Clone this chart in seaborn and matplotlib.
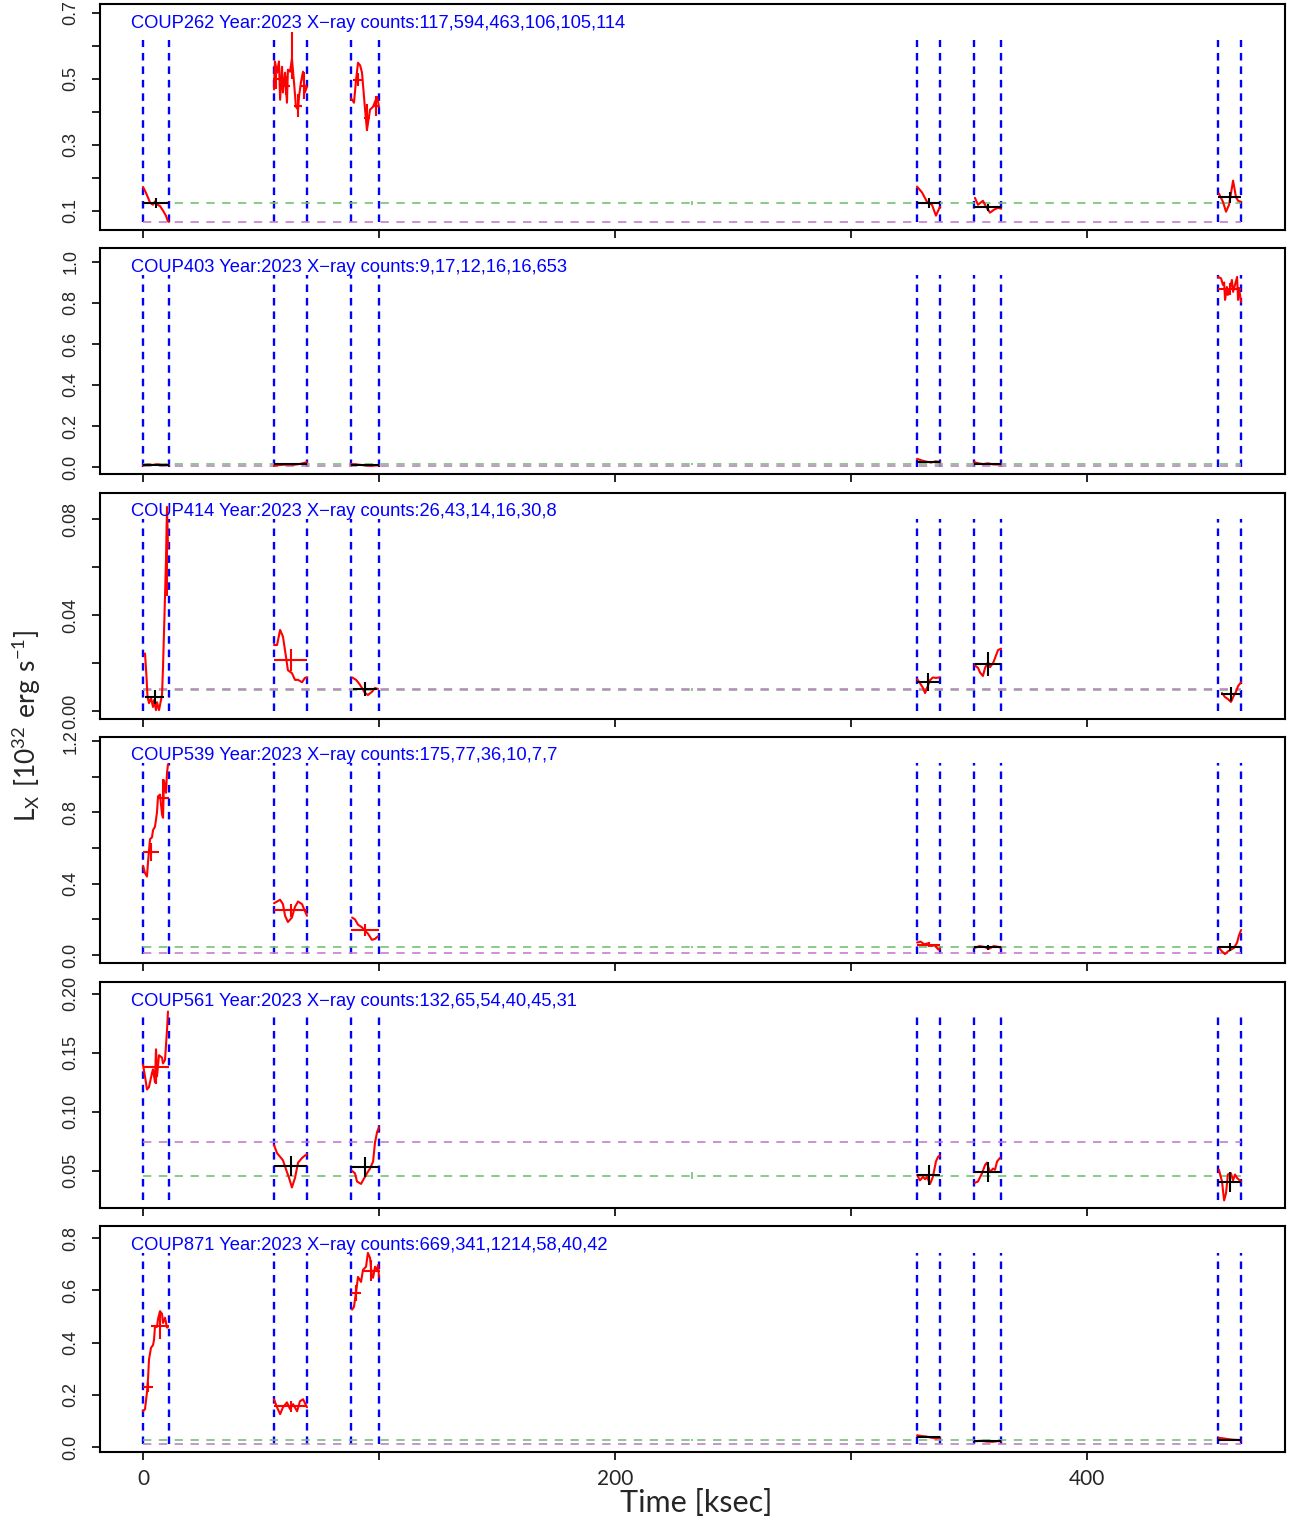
import matplotlib
matplotlib.use('Agg')
import matplotlib.pyplot as plt
import seaborn as sns
import pandas as pd

sns.set_style('ticks')
plt.rcParams['font.family'] = ['Liberation Sans', 'DejaVu Sans']

W, H = 1292, 1523

# ---- data ----
stars = ['COUP262', 'COUP403', 'COUP414', 'COUP539', 'COUP561', 'COUP871']
counts = ['117,594,463,106,105,114', '9,17,12,16,16,653', '26,43,14,16,30,8',
          '175,77,36,10,7,7', '132,65,54,40,45,31', '669,341,1214,58,40,42']
year = 2023

seg_edges = [0, 11, 55.5, 69.5, 88.1, 100, 328, 337.7, 352.1, 363.6, 455.5, 465.3]
t_start, t_stop = 0, 465.3
green_lvl = [0.124, 0.016, 0.0089, 0.045, 0.0458, 0.027]
green_err = [0.006, 0.004, 0.0006, 0.006, 0.003, 0.004]
purple_lvl = [0.067, 0.005, 0.0093, 0.011, 0.0746, 0.011]
blue_lo = [0.067, 0.0, 0.0, 0.005, 0.0254, 0.011]
blue_hi = [0.618, 0.937, 0.080, 1.078, 0.18, 0.743]

# light curves: one list per observing segment
t262 = [[0, 1.0, 2.1, 3.0, 4.2, 5.1, 5.9, 7.2, 8.5, 9.7, 10.6, 11.0],
        [55.5, 55.9, 56.8, 57.6, 58.1, 58.9, 59.3, 60.2, 61.0, 61.4, 62.3, 63.1, 64.0, 64.8, 65.7, 66.1, 66.9, 67.8, 68.6, 69.5],
        [88.1, 88.6, 89.4, 90.3, 91.1, 92.0, 92.8, 94.1, 94.9, 96.2, 97.5, 98.3, 99.2, 100.0],
        [328.0, 330.1, 332.2, 334.3, 336.0, 337.7],
        [352.5, 353.8, 355.9, 357.2, 358.9, 360.6, 362.3, 363.6],
        [455.9, 457.6, 458.9, 460.2, 461.9, 463.1, 464.0, 465.3]]
f262 = [[0.172, 0.158, 0.140, 0.124, 0.118, 0.128, 0.119, 0.114, 0.100, 0.085, 0.068, 0.066],
        [0.467, 0.552, 0.518, 0.552, 0.436, 0.536, 0.458, 0.518, 0.427, 0.527, 0.521, 0.56, 0.488, 0.415, 0.406, 0.445, 0.488, 0.521, 0.458, 0.476],
        [0.44, 0.436, 0.427, 0.497, 0.548, 0.54, 0.518, 0.406, 0.345, 0.406, 0.415, 0.43, 0.445, 0.415],
        [0.173, 0.155, 0.127, 0.118, 0.085, 0.112],
        [0.139, 0.118, 0.13, 0.112, 0.094, 0.103, 0.109, 0.106],
        [0.152, 0.127, 0.097, 0.118, 0.191, 0.142, 0.13, 0.127]]

t403 = [[0, 2, 4, 6, 8, 11],
        [55.5, 58, 61, 64, 67, 69.5],
        [88.1, 91, 94, 97, 100],
        [328, 330, 332, 334, 336, 337.7],
        [352.1, 354, 356, 358, 360, 362, 363.6],
        [455.5, 456.8, 457.6, 458.1, 458.5, 459.3, 459.7, 460.6, 461.4, 461.9, 462.7, 463.6, 464.0, 464.4, 465.3]]
f403 = [[0.008, 0.012, 0.010, 0.014, 0.009, 0.011],
        [0.006, 0.010, 0.012, 0.011, 0.016, 0.024],
        [0.014, 0.012, 0.008, 0.006, 0.009],
        [0.040, 0.032, 0.026, 0.022, 0.028, 0.024],
        [0.024, 0.018, 0.014, 0.018, 0.013, 0.012, 0.016],
        [0.927, 0.92, 0.888, 0.90, 0.815, 0.878, 0.839, 0.873, 0.912, 0.854, 0.888, 0.927, 0.815, 0.873, 0.805]]

t414 = [[0.85, 1.5, 1.9, 2.54, 3.39, 4.24, 4.66, 5.51, 5.93, 6.78, 8.05, 8.47, 9.32, 9.75, 10.17, 10.59],
        [55.5, 56.8, 58.1, 59.3, 60.6, 61.4, 63.1, 64.4, 65.7, 67.4, 68.6, 69.5],
        [88.6, 90.3, 91.9, 94.1, 95.3, 97.0, 98.3, 99.6],
        [328.0, 329.2, 330.5, 331.4, 332.2, 333.5, 334.7, 336.0, 337.3],
        [352.5, 353.8, 354.7, 355.9, 356.8, 358.1, 358.9, 360.2, 361.0, 362.3, 363.6],
        [457.2, 458.5, 459.7, 461.0, 461.9, 463.1, 464.0, 465.3]]
f414 = [[0.024, 0.014, 0.006, 0.0033, 0.0054, 0.0017, 0.0046, 0.0004, 0.0037, 0.0004, 0.0067, 0.018, 0.0475, 0.063, 0.085, 0.068],
        [0.0275, 0.0275, 0.0338, 0.031, 0.0225, 0.017, 0.0158, 0.013, 0.013, 0.012, 0.0138, 0.014],
        [0.014, 0.013, 0.011, 0.0075, 0.0067, 0.008, 0.0096, 0.0092],
        [0.0133, 0.0117, 0.0096, 0.0075, 0.0096, 0.0129, 0.014, 0.0138, 0.014],
        [0.019, 0.018, 0.016, 0.0146, 0.018, 0.0204, 0.0183, 0.02, 0.022, 0.0254, 0.026],
        [0.0075, 0.0058, 0.005, 0.0038, 0.0058, 0.008, 0.0104, 0.012]]

t539 = [[0.0, 0.85, 1.69, 2.12, 2.97, 3.81, 4.24, 5.08, 5.93, 6.36, 7.20, 8.05, 8.47, 8.90, 9.75, 10.17, 10.59],
        [55.5, 56.8, 58.1, 59.3, 60.2, 61.4, 63.1, 64.4, 65.7, 67.4, 68.6, 69.5],
        [88.6, 89.8, 91.1, 92.8, 94.1, 95.3, 97.0, 98.3, 99.6],
        [328, 329.5, 331, 332.5, 334, 335.5, 337, 337.7],
        [352.5, 354.5, 356.5, 358.5, 360.5, 362.5, 363.6],
        [455.9, 457.2, 458.5, 459.7, 461.0, 462.3, 463.6, 464.4, 465.3]]
f539 = [[0.50, 0.46, 0.44, 0.52, 0.65, 0.66, 0.70, 0.72, 0.80, 0.89, 0.90, 0.79, 0.77, 0.98, 0.91, 1.02, 1.07],
        [0.29, 0.30, 0.31, 0.285, 0.22, 0.185, 0.21, 0.27, 0.30, 0.285, 0.246, 0.22],
        [0.21, 0.20, 0.17, 0.155, 0.135, 0.12, 0.085, 0.09, 0.105],
        [0.07, 0.075, 0.06, 0.065, 0.05, 0.055, 0.03, 0.035],
        [0.04, 0.05, 0.045, 0.035, 0.05, 0.045, 0.04],
        [0.04, 0.02, 0.005, 0.02, 0.03, 0.04, 0.07, 0.11, 0.14]]

t561 = [[0.0, 0.85, 1.69, 2.54, 3.81, 4.24, 5.08, 5.51, 5.93, 6.78, 8.05, 8.47, 9.32, 10.17, 10.59],
        [55.5, 56.8, 58.1, 59.3, 61.0, 61.9, 63.1, 64.4, 65.7, 67.4, 68.6, 69.5],
        [88.6, 89.8, 90.7, 92.4, 93.2, 94.9, 96.2, 97.5, 98.3, 99.2, 100.0],
        [328.0, 329.2, 330.5, 331.4, 332.2, 333.5, 334.7, 336.0, 336.9, 337.7],
        [352.5, 353.8, 355.5, 356.8, 357.6, 358.9, 360.2, 361.0, 361.9, 363.1],
        [455.9, 457.2, 458.1, 458.9, 459.7, 461.0, 461.9, 462.7, 463.6, 465.3]]
f561 = [[0.14, 0.13, 0.119, 0.121, 0.133, 0.136, 0.125, 0.153, 0.13, 0.148, 0.146, 0.141, 0.144, 0.169, 0.185],
        [0.072, 0.065, 0.062, 0.059, 0.049, 0.044, 0.036, 0.044, 0.057, 0.061, 0.063, 0.064],
        [0.05, 0.048, 0.041, 0.039, 0.042, 0.048, 0.052, 0.058, 0.074, 0.083, 0.087],
        [0.0466, 0.042, 0.045, 0.043, 0.045, 0.039, 0.045, 0.058, 0.062, 0.063],
        [0.04, 0.041, 0.048, 0.055, 0.057, 0.049, 0.052, 0.051, 0.058, 0.061],
        [0.051, 0.041, 0.025, 0.031, 0.047, 0.048, 0.042, 0.047, 0.044, 0.041]]

t871 = [[0.0, 0.85, 1.69, 2.12, 2.54, 3.39, 4.24, 4.66, 5.08, 5.93, 6.36, 7.20, 8.05, 8.47, 9.32, 10.17, 10.59],
        [55.5, 56.8, 58.1, 59.3, 61.0, 62.3, 63.6, 65.3, 66.5, 67.8, 69.5],
        [88.6, 89.4, 90.3, 91.1, 92.4, 93.2, 94.5, 95.3, 96.2, 97.0, 97.5, 98.3, 99.2, 99.6, 100.0],
        [328, 330, 332, 334, 336, 337.7],
        [352.5, 355, 357.5, 360, 362.5, 363.6],
        [455.9, 458, 460, 462, 464, 465.3]]
f871 = [[0.137, 0.145, 0.21, 0.26, 0.335, 0.38, 0.39, 0.41, 0.46, 0.46, 0.49, 0.52, 0.51, 0.475, 0.495, 0.457, 0.46],
        [0.183, 0.152, 0.126, 0.152, 0.171, 0.145, 0.164, 0.137, 0.175, 0.183, 0.152],
        [0.526, 0.537, 0.594, 0.651, 0.632, 0.678, 0.69, 0.743, 0.724, 0.651, 0.648, 0.69, 0.678, 0.697, 0.651],
        [0.045, 0.042, 0.040, 0.036, 0.033, 0.035],
        [0.022, 0.024, 0.021, 0.020, 0.023, 0.022],
        [0.035, 0.033, 0.030, 0.028, 0.027, 0.026]]

# block means (t, flux, half-width, error): black = consistent with baseline, red = elevated
black262 = [(5.5, 0.124, 5.5, 0.015), (332.9, 0.123, 4.8, 0.015), (357.9, 0.110, 5.7, 0.011), (460.4, 0.140, 4.9, 0.017)]
red262 = [(56.4, 0.50, 1.5, 0.03), (60.6, 0.479, 1.7, 0.03), (63.1, 0.57, 0.6, 0.07), (65.7, 0.418, 1.7, 0.035),
          (68.2, 0.479, 1.5, 0.04), (91.1, 0.497, 2.3, 0.02), (94.9, 0.382, 1.3, 0.04), (98.7, 0.418, 1.2, 0.03)]
black403 = [(5.5, 0.010, 5.5, 0.004), (62.5, 0.013, 7.0, 0.004), (94.1, 0.010, 5.9, 0.004),
            (332.9, 0.025, 4.8, 0.006), (357.9, 0.015, 5.7, 0.005)]
red403 = [(460.4, 0.868, 4.9, 0.03)]
black414 = [(4.9, 0.0058, 4.0, 0.003), (94.1, 0.0092, 5.1, 0.003), (332.6, 0.012, 4.7, 0.0037),
            (358.1, 0.0196, 5.5, 0.0048), (461.0, 0.0071, 4.2, 0.003)]
red414 = [(62.5, 0.0213, 7.0, 0.0045), (10.2, 0.063, 0.4, 0.015)]
black539 = [(357.9, 0.042, 5.7, 0.015), (460.4, 0.045, 4.9, 0.02)]
red539 = [(3.4, 0.58, 3.2, 0.05), (8.5, 0.88, 2.5, 0.11), (62.5, 0.25, 7.0, 0.035), (94.1, 0.14, 5.9, 0.035),
          (332.9, 0.058, 4.8, 0.015)]
black561 = [(62.5, 0.054, 7.0, 0.0085), (94.1, 0.053, 5.9, 0.0085), (332.9, 0.0466, 4.8, 0.0085),
            (357.9, 0.049, 5.7, 0.0085), (460.4, 0.041, 4.9, 0.0085)]
red561 = [(5.5, 0.138, 5.5, 0.014)]
black871 = [(332.9, 0.038, 4.8, 0.005), (357.9, 0.023, 5.7, 0.005), (460.4, 0.027, 4.9, 0.005)]
red871 = [(2.1, 0.229, 2.1, 0.02), (7.2, 0.465, 3.8, 0.05), (62.5, 0.156, 7.0, 0.02),
          (90.3, 0.59, 2.0, 0.03), (96.6, 0.674, 3.8, 0.04)]

curve_t = [t262, t403, t414, t539, t561, t871]
curve_f = [f262, f403, f414, f539, f561, f871]
black_blocks = [black262, black403, black414, black539, black561, black871]
red_blocks = [red262, red403, red414, red539, red561, red871]

ylims = [(0.0415, 0.726), (-0.034, 1.068), (-0.0033, 0.0908), (-0.045, 1.223), (0.0186, 0.210), (-0.019, 0.846)]
yticks = [[0.1, 0.2, 0.3, 0.4, 0.5, 0.6, 0.7],
          [0.0, 0.2, 0.4, 0.6, 0.8, 1.0],
          [0.0, 0.02, 0.04, 0.06, 0.08],
          [0.0, 0.2, 0.4, 0.6, 0.8, 1.0, 1.2],
          [0.05, 0.10, 0.15, 0.20],
          [0.0, 0.2, 0.4, 0.6, 0.8]]
ylabels = [['0.1', '', '0.3', '', '0.5', '', '0.7'],
           ['0.0', '0.2', '0.4', '0.6', '0.8', '1.0'],
           ['0.00', '', '0.04', '', '0.08'],
           ['0.0', '', '0.4', '', '0.8', '', '1.2'],
           ['0.05', '0.10', '0.15', '0.20'],
           ['0.0', '0.2', '0.4', '0.6', '0.8']]
xticks = [0, 100, 200, 300, 400]
xlabels = ['0', '', '200', '', '400']

# ---- figure ----
BLUE, RED = '#0000FF', '#FF0000'
GREEN, PURPLE = '#74C174', '#C47ECB'
panel_tops = [4, 248, 493, 737, 982, 1226]
panel_h = 226
left, right = 100, 1285

fig = plt.figure(figsize=(W / 100, H / 100), dpi=100)

for i in range(6):
    top = panel_tops[i]
    ax = fig.add_axes([left / W, 1 - (top + panel_h) / H, (right - left) / W, panel_h / H])

    rows = [(s, t, f) for s, (ts, fs) in enumerate(zip(curve_t[i], curve_f[i])) for t, f in zip(ts, fs)]
    df = pd.DataFrame(rows, columns=['seg', 't', 'f'])

    ax.vlines(seg_edges, blue_lo[i], blue_hi[i], colors=BLUE, lw=1.7, linestyles=(0, (3.2, 2.5)), zorder=1)
    ax.hlines(green_lvl[i], t_start, t_stop, colors=GREEN, lw=1.2, linestyles=(0, (5, 4.5)), zorder=1)
    ax.hlines(purple_lvl[i], t_start, t_stop, colors=PURPLE, lw=1.2, linestyles=(0, (5, 4.5)), zorder=1)
    ax.vlines((t_start + t_stop) / 2, green_lvl[i] - green_err[i], green_lvl[i] + green_err[i],
              colors=GREEN, lw=1.2, zorder=1)

    sns.lineplot(data=df, x='t', y='f', units='seg', estimator=None, sort=False,
                 color=RED, lw=1.5, ax=ax, legend=False, zorder=3)

    for blocks, col in ((black_blocks[i], 'black'), (red_blocks[i], RED)):
        if blocks:
            bt, bf, bdt, bdf = zip(*blocks)
            ax.errorbar(bt, bf, xerr=bdt, yerr=bdf, fmt='none', ecolor=col, elinewidth=1.5, capsize=0, zorder=4)

    ax.text((131 - left) / (right - left), 1 - 19 / panel_h,
            f'{stars[i]} Year:{year} X\u2212ray counts:{counts[i]}',
            transform=ax.transAxes, color=BLUE, fontsize=13.2, va='center', ha='left', zorder=5)

    ax.set_xlim((left - 143) / 2.36, (right - 143) / 2.36)
    ax.set_ylim(*ylims[i])
    ax.set_yticks(yticks[i])
    ax.set_yticklabels(ylabels[i], rotation=90, va='center', fontsize=13)
    ax.set_xticks(xticks)
    if i == 5:
        ax.set_xticklabels(xlabels, fontsize=15, family=['Lato', 'DejaVu Sans'])
    else:
        ax.set_xticklabels([])
    ax.set_xlabel('')
    ax.set_ylabel('')
    ax.tick_params(axis='both', direction='out', length=6, width=1.2, color='black')
    ax.tick_params(axis='y', pad=9)
    ax.tick_params(axis='x', pad=6)
    for sp in ax.spines.values():
        sp.set_visible(True)
        sp.set_linewidth(1.5)
        sp.set_color('black')

fig.text(696 / W, 1 - 1503 / H, 'Time [ksec]', ha='center', va='center', fontsize=22,
         family=['Lato', 'DejaVu Sans'])
fig.text(27 / W, 1 - 726 / H, r'$\mathregular{L_X\ [10^{32}\ erg\ s^{-1}]}$', ha='center', va='center',
         rotation=90, fontsize=19, family=['Lato', 'DejaVu Sans'])

fig.savefig('out.png', dpi=100)
